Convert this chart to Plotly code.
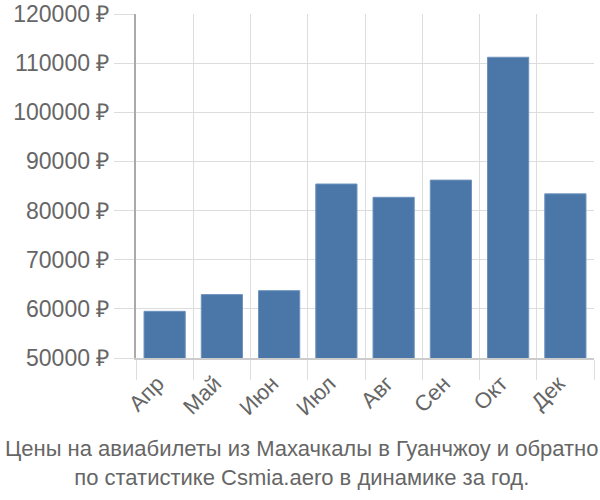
import plotly.graph_objects as go

months = ["Апр", "Май", "Июн", "Июл", "Авг", "Сен", "Окт", "Дек"]
prices = [59500, 62900, 63700, 85400, 82700, 86200, 111200, 83400]
y_ticks = [50000, 60000, 70000, 80000, 90000, 100000, 110000, 120000]
y_labels = [f"{v} ₽" for v in y_ticks]
title_lines = ["Цены на авиабилеты из Махачкалы в Гуанчжоу и обратно",
               "по статистике Csmia.aero в динамике за год."]

fig = go.Figure(go.Bar(
    x=months, y=prices,
    marker=dict(color="#4a77a8", line=dict(color="#6f93bd", width=1)),
    width=0.72,
))

fig.update_layout(
    width=600, height=500,
    margin=dict(l=136, r=6, t=14, b=142),
    paper_bgcolor="white", plot_bgcolor="white",
    font=dict(family="Liberation Sans, Arial, sans-serif", color="#666666"),
    showlegend=False,
    annotations=[dict(
        text="<br>".join(title_lines), xref="paper", yref="paper",
        x=0.5, xanchor="center", y=-0.222, yanchor="top", showarrow=False,
        font=dict(size=22, color="#666666"), xshift=-64,
    )],
)

fig.update_xaxes(
    type="category", tickson="boundaries", automargin=False,
    showgrid=True, gridcolor="#dddddd", gridwidth=1,
    ticks="outside", ticklen=20, tickcolor="#dddddd",
    showline=True, linecolor="#cccccc", linewidth=2,
    tickangle=-45, tickfont=dict(size=22, color="#666666"),
    ticklabelshift=-7, ticklabelstandoff=2,
    range=[-0.5, 7.5],
)
fig.update_yaxes(
    range=[50000, 120000], tickvals=y_ticks, ticktext=y_labels,
    automargin=False,
    showgrid=True, gridcolor="#dddddd", gridwidth=1,
    ticks="outside", ticklen=20, tickcolor="#dddddd",
    showline=True, linecolor="#aaaaaa", linewidth=2,
    tickfont=dict(size=23, color="#666666"), zeroline=False,
)

fig.write_html("out.html")
